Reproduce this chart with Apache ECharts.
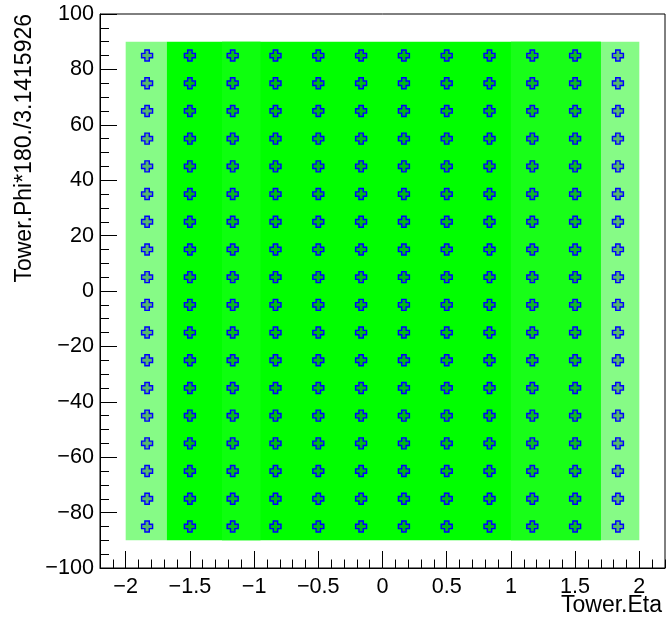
<!DOCTYPE html>
<html>
<head>
<meta charset="utf-8">
<script src="https://cdn.jsdelivr.net/npm/echarts@6/dist/echarts.min.js"></script>
<style>html,body{margin:0;padding:0;background:#fff;}#c{width:666px;height:617px;}</style>
</head>
<body>
<div id="c"></div>
<script>
// Tower centres (eta, phi in degrees)
var etaCenters = [-1.8333, -1.5, -1.1667, -0.8333, -0.5, -0.1667, 0.1667, 0.5, 0.8333, 1.1667, 1.5, 1.8333];
var phiCenters = [-85, -75, -65, -55, -45, -35, -25, -15, -5, 5, 15, 25, 35, 45, 55, 65, 75, 85];
// Extents of the dense green scatter cloud
var cloudEta = [-2, 2];
var cloudPhi = [-90, 90];
var sparseEdgeEta = [-1.68, 1.70];   // beyond these |eta| the cloud is sparse
var midBandRight = [1.0, 1.70];      // lightly speckled band
var midBandLeft = [-1.25, -0.95];
// Tick labels
var xMajorTicks = [-2, -1.5, -1, -0.5, 0, 0.5, 1, 1.5, 2];
var xMinorTicks = [];
for (var i = -22; i <= 22; i++) xMinorTicks.push(i / 10);
var xTitle = 'Tower.Eta';
var yTitle = 'Tower.Phi*180./3.1415926';

var towers = [];
etaCenters.forEach(function (e) { phiCenters.forEach(function (p) { towers.push([e, p]); }); });

function fmt(v) {
  var s = String(Math.round(v * 100) / 100);
  return s.replace('-', '\u2212');
}
var FONT = 'Liberation Sans, Arial, Helvetica, sans-serif';
var FS = 21.6;
var TFS = 23;

var chart = echarts.init(document.getElementById('c'), null, {renderer: 'canvas'});
chart.setOption({
  animation: false,
  backgroundColor: '#fff',
  grid: {left: 100, top: 14, right: 1, bottom: 49, show: true, borderColor: '#000', borderWidth: 1, backgroundColor: '#fff'},
  xAxis: [{
    type: 'value', min: -2.2, max: 2.2, position: 'bottom',
    axisLine: {show: true, onZero: false, lineStyle: {color: '#000', width: 1}},
    axisTick: {show: true, inside: true, length: 17, customValues: xMajorTicks, lineStyle: {color: '#000', width: 1}},
    axisLabel: {show: true, customValues: xMajorTicks, formatter: fmt, color: '#000', fontSize: FS, fontFamily: FONT, margin: 8},
    splitLine: {show: false}
  }, {
    type: 'value', min: -2.2, max: 2.2, position: 'bottom', offset: 0,
    axisLine: {show: false, onZero: false},
    axisTick: {show: true, inside: true, length: 8.5, customValues: xMinorTicks, lineStyle: {color: '#000', width: 1}},
    axisLabel: {show: false},
    splitLine: {show: false}
  }],
  yAxis: {
    type: 'value', min: -100, max: 100, interval: 20,
    axisLine: {show: true, onZero: false, lineStyle: {color: '#000', width: 1}},
    axisTick: {show: true, inside: true, length: 17, lineStyle: {color: '#000', width: 1}},
    minorTick: {show: true, splitNumber: 4, length: 9, lineStyle: {color: '#000', width: 1}},
    axisLabel: {formatter: fmt, color: '#000', fontSize: FS, fontFamily: FONT, margin: 6},
    splitLine: {show: false}
  },
  graphic: [
    {type: 'text', x: 662, y: 606, style: {text: xTitle, font: TFS + 'px ' + FONT, fill: '#000', align: 'right', verticalAlign: 'middle'}},
    {type: 'text', x: 25, y: 14, rotation: Math.PI / 2, style: {text: yTitle, font: TFS + 'px ' + FONT, fill: '#000', align: 'right', verticalAlign: 'middle'}}
  ],
  series: [{
    type: 'scatter',
    xAxisIndex: 0,
    data: towers,
    symbol: 'path://M3,0 L7,0 L7,3 L10,3 L10,7 L7,7 L7,10 L3,10 L3,7 L0,7 L0,3 L3,3 Z',
    symbolSize: 11,
    itemStyle: {color: 'rgba(0,60,60,0.35)', borderColor: '#0000ff', borderWidth: 1.4, opacity: 1},
    markArea: {
      silent: true,
      data: [
        [{xAxis: cloudEta[0], yAxis: cloudPhi[0], itemStyle: {color: '#86fb86'}}, {xAxis: sparseEdgeEta[0], yAxis: cloudPhi[1]}],
        [{xAxis: sparseEdgeEta[1], yAxis: cloudPhi[0], itemStyle: {color: '#86fb86'}}, {xAxis: cloudEta[1], yAxis: cloudPhi[1]}],
        [{xAxis: sparseEdgeEta[0], yAxis: cloudPhi[0], itemStyle: {color: '#00ff00'}}, {xAxis: sparseEdgeEta[1], yAxis: cloudPhi[1]}],
        [{xAxis: midBandRight[0], yAxis: cloudPhi[0], itemStyle: {color: '#18fe18'}}, {xAxis: midBandRight[1], yAxis: cloudPhi[1]}],
        [{xAxis: midBandLeft[0], yAxis: cloudPhi[0], itemStyle: {color: '#0eff0e'}}, {xAxis: midBandLeft[1], yAxis: cloudPhi[1]}]
      ],
      itemStyle: {opacity: 1, borderWidth: 0}
    }
  }]
});
</script>
</body>
</html>
